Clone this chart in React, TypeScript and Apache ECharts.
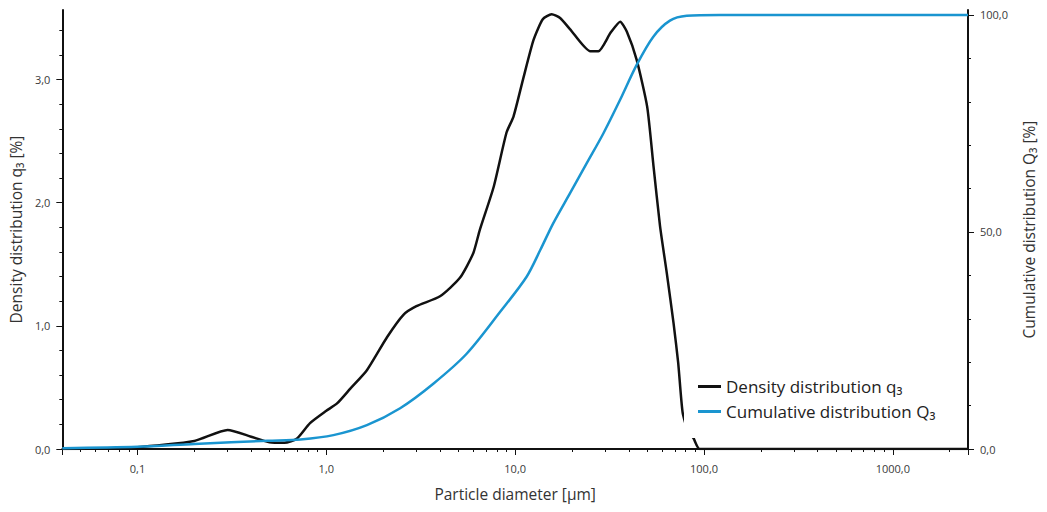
import React, { useEffect, useRef } from "react";
import * as echarts from "echarts";

// Density distribution q3 [%] (left axis)
const densityDiameters = [
  0.04, 0.1, 0.2, 0.3, 0.4, 0.5, 0.6, 0.7, 0.82, 1.0, 1.14, 1.34, 1.64, 2.1, 2.56, 3.0, 4.0, 5.1,
  6.0, 6.5, 7.7, 9.0, 9.8, 11, 12.5, 14, 15.6, 17.3, 19.5, 25, 27.6, 32, 36, 39, 44, 50, 54,
  58.5, 63.5, 69, 73, 77, 82, 88, 95, 2500,
];
const densityValues = [
  0, 0.015, 0.065, 0.155, 0.1, 0.055, 0.05, 0.085, 0.21, 0.31, 0.37, 0.49, 0.64, 0.91, 1.09, 1.16,
  1.24, 1.39, 1.59, 1.78, 2.13, 2.57, 2.7, 3.0, 3.32, 3.49, 3.53, 3.5, 3.41, 3.23, 3.23, 3.38, 3.47,
  3.39, 3.16, 2.78, 2.3, 1.81, 1.43, 1.02, 0.7, 0.3, 0.15, 0.087, 0, 0,
];

// Cumulative distribution Q3 [%] (right axis)
const cumulativeDiameters = [
  0.04, 0.1, 0.2, 0.49, 0.73, 1.09, 1.64, 2.46, 3.7, 5.55, 8.33, 11.5, 13.6, 15.9, 19.5, 23.9,
  29.3, 35.9, 44, 53.9, 66, 81, 121, 2500,
];
const cumulativeValues = [
  0.2, 0.5, 1.15, 1.9, 2.2, 3.2, 5.5, 9.4, 15.1, 22.0, 31.6, 39.7, 45.9, 52.0, 58.9, 65.8, 72.7,
  80.4, 88.5, 95.0, 98.7, 99.8, 100, 100,
];

const xMin = 0.04;
const xMax = 2500;
const xMinorTicks = [
  0.05, 0.06, 0.07, 0.08, 0.09, 0.2, 0.3, 0.4, 0.5, 0.6, 0.7, 0.8, 0.9, 2, 3, 4, 5, 6, 7, 8, 9, 20,
  30, 40, 50, 60, 70, 80, 90, 200, 300, 400, 500, 600, 700, 800, 900, 2000,
];
const leftMajorTicks = [0, 1, 2, 3];
const leftMinorTicks = [0.2, 0.4, 0.6, 0.8, 1.2, 1.4, 1.6, 1.8, 2.2, 2.4, 2.6, 2.8, 3.2, 3.4];
const rightMajorTicks = [0, 50, 100];
const rightMinorTicks = [10, 20, 30, 40, 60, 70, 80, 90];
const leftMax = 3.565;
const rightMax = 101.15;

const FONT = "'Open Sans', 'Noto Sans', 'DejaVu Sans', sans-serif";
const LABEL_COLOR = "#3a3a3a";
const AXIS_COLOR = "#111";
const BLUE = "#1a95d0";

const fmt = (v: number) => v.toFixed(1).replace(".", ",");

export default function App() {
  const ref = useRef<HTMLDivElement>(null);

  useEffect(() => {
    document.body.style.margin = "0";
    if (!ref.current) return;
    const chart = echarts.init(ref.current, undefined, { renderer: "svg" });

    const densityData = densityDiameters.map((d, i) => [d, densityValues[i]]);
    const cumulativeData = cumulativeDiameters.map((d, i) => [d, cumulativeValues[i]]);

    const tickStyle = { color: AXIS_COLOR, width: 1 };
    const nameStyle = { fontSize: 15.5, color: "#333", fontFamily: FONT };

    chart.setOption({
      animation: false,
      backgroundColor: "#fff",
      textStyle: { fontFamily: FONT },
      grid: { left: 62, right: 79, top: 10, bottom: 63, containLabel: false },
      legend: {
        orient: "vertical",
        left: 684,
        top: 371,
        padding: [6, 10, 17, 14],
        backgroundColor: "#fff",
        itemGap: 6,
        itemWidth: 23,
        itemHeight: 3,
        icon: "rect",
        textStyle: { fontSize: 17, color: "#222", fontFamily: FONT, lineHeight: 19 },
        data: ["Density distribution q₃", "Cumulative distribution Q₃"],
      },
      xAxis: [
        {
          type: "log",
          logBase: 10,
          min: xMin,
          max: xMax,
          position: "bottom",
          name: "Particle diameter [µm]",
          nameLocation: "middle",
          nameGap: 37,
          nameTextStyle: nameStyle,
          axisLine: { show: true, onZero: false, lineStyle: { color: AXIS_COLOR, width: 2 } },
          axisTick: { show: true, length: 6, lineStyle: tickStyle },
          minorTick: { show: false },
          splitLine: { show: false },
          axisLabel: {
            margin: 14,
            fontSize: 11,
            color: LABEL_COLOR,
            fontFamily: FONT,
            formatter: (v: number) => {
              const l = Math.log10(v);
              return Math.abs(l - Math.round(l)) < 1e-6 ? fmt(v) : "";
            },
          },
        },
        {
          type: "value",
          min: Math.log10(xMin),
          max: Math.log10(xMax),
          position: "bottom",
          axisLine: { show: false, onZero: false },
          axisLabel: { show: false },
          splitLine: { show: false },
          axisTick: {
            show: true,
            length: 3,
            lineStyle: tickStyle,
            customValues: xMinorTicks.map((v) => Math.log10(v)),
          },
        },
      ],
      yAxis: [
        {
          type: "value",
          position: "left",
          min: 0,
          max: leftMax,
          interval: 1,
          name: "Density distribution q₃ [%]",
          nameLocation: "middle",
          nameRotate: 90,
          nameGap: 36,
          nameTextStyle: nameStyle,
          axisLine: { show: true, onZero: false, lineStyle: { color: AXIS_COLOR, width: 2 } },
          axisTick: { show: true, length: 6, lineStyle: tickStyle, customValues: leftMajorTicks },
          splitLine: { show: false },
          axisLabel: {
            margin: 12,
            fontSize: 11,
            color: LABEL_COLOR,
            fontFamily: FONT,
            customValues: leftMajorTicks,
            formatter: (v: number) => (Math.abs(v - Math.round(v)) < 1e-6 ? fmt(v) : ""),
          },
        },
        {
          type: "value",
          position: "right",
          min: 0,
          max: rightMax,
          interval: 50,
          name: "Cumulative distribution Q₃ [%]",
          nameLocation: "middle",
          nameRotate: 90,
          nameGap: 53,
          nameTextStyle: nameStyle,
          axisLine: { show: true, onZero: false, lineStyle: { color: AXIS_COLOR, width: 2 } },
          axisTick: { show: true, length: 6, lineStyle: tickStyle, customValues: rightMajorTicks },
          splitLine: { show: false },
          axisLabel: {
            margin: 12,
            fontSize: 11,
            color: LABEL_COLOR,
            fontFamily: FONT,
            customValues: rightMajorTicks,
            formatter: (v: number) => (Math.abs(v % 50) < 1e-6 ? fmt(v) : ""),
          },
        },
        {
          type: "value",
          position: "left",
          min: 0,
          max: leftMax,
          interval: 0.2,
          axisLine: { show: false, onZero: false },
          axisLabel: { show: false },
          splitLine: { show: false },
          axisTick: { show: true, length: 3, lineStyle: tickStyle, customValues: leftMinorTicks },
        },
        {
          type: "value",
          position: "right",
          min: 0,
          max: rightMax,
          interval: 10,
          axisLine: { show: false, onZero: false },
          axisLabel: { show: false },
          splitLine: { show: false },
          axisTick: { show: true, length: 3, lineStyle: tickStyle, customValues: rightMinorTicks },
        },
      ],
      series: [
        {
          name: "Density distribution q₃",
          type: "line",
          xAxisIndex: 0,
          yAxisIndex: 0,
          data: densityData,
          showSymbol: false,
          symbol: "none",
          smooth: 0.2,
          color: "#111",
          lineStyle: { color: "#111", width: 2.5 },
        },
        {
          name: "Cumulative distribution Q₃",
          type: "line",
          xAxisIndex: 0,
          yAxisIndex: 1,
          data: cumulativeData,
          showSymbol: false,
          symbol: "none",
          smooth: 0.3,
          color: BLUE,
          lineStyle: { color: BLUE, width: 2.5 },
        },
      ],
    });

    return () => chart.dispose();
  }, []);

  return <div ref={ref} style={{ width: 1047, height: 512 }} />;
}
